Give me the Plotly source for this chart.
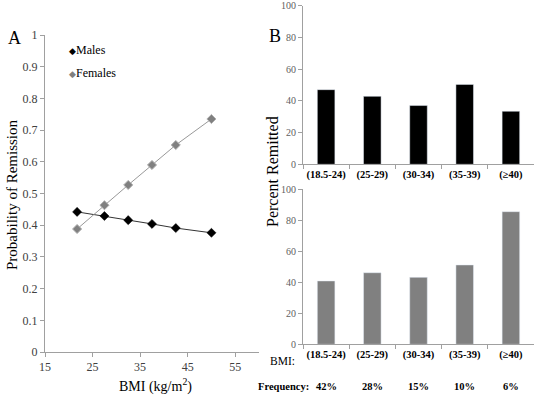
import plotly.graph_objects as go

# Panel A data
bmi_x = [21.75, 27.5, 32.5, 37.5, 42.5, 50.0]
males_prob = [0.442, 0.429, 0.416, 0.404, 0.391, 0.376]
females_prob = [0.388, 0.463, 0.527, 0.590, 0.653, 0.735]
a_xticks = [15, 25, 35, 45, 55]
a_yticks = [0, 0.1, 0.2, 0.3, 0.4, 0.5, 0.6, 0.7, 0.8, 0.9, 1]

# Panel B data
bmi_cats = ["(18.5-24)", "(25-29)", "(30-34)", "(35-39)", "(\u226540)"]
males_pct = [47.0, 42.8, 37.0, 50.3, 33.4]
females_pct = [40.8, 46.1, 43.1, 51.1, 85.4]
frequency = ["42%", "28%", "15%", "10%", "6%"]
b_yticks = [0, 20, 40, 60, 80, 100]

W, H = 535, 396
SERIF = "Liberation Serif, Times New Roman, serif"

def px(x):
    return x / W

def py(y):
    return 1 - y / H

fig = go.Figure()

# Panel A: lines
fig.add_trace(go.Scatter(x=bmi_x, y=males_prob, mode="lines", line=dict(color="#333333", width=1),
                         showlegend=False, xaxis="x", yaxis="y", hoverinfo="skip"))
fig.add_trace(go.Scatter(x=bmi_x, y=females_prob, mode="lines", line=dict(color="#999999", width=1),
                         showlegend=False, xaxis="x", yaxis="y", hoverinfo="skip"))
fig.add_trace(go.Scatter(x=bmi_x, y=males_prob, mode="markers", name="Males",
                         marker=dict(symbol="diamond", size=7, color="#000000", line=dict(color="#000000", width=0.5)),
                         xaxis="x", yaxis="y", showlegend=False))
fig.add_trace(go.Scatter(x=bmi_x, y=females_prob, mode="markers", name="Females",
                         marker=dict(symbol="diamond", size=7, color="#808080", line=dict(color="#b0b0b0", width=1)),
                         xaxis="x", yaxis="y", showlegend=False))

# Panel B bars
fig.add_trace(go.Bar(x=bmi_cats, y=males_pct, marker=dict(color="#000000"), showlegend=False,
                     xaxis="x2", yaxis="y2"))
fig.add_trace(go.Bar(x=bmi_cats, y=females_pct, marker=dict(color="#808080"), showlegend=False,
                     xaxis="x3", yaxis="y3"))

axis_common = dict(showgrid=False, zeroline=False, showline=True, linecolor="#a0a0a0", linewidth=1,
                   ticks="outside", tickcolor="#a0a0a0", ticklen=4, automargin=False,
                   ticklabeloverflow="allow")
cat_font = dict(family=SERIF, size=10.5, color="#000000", weight="bold")

fig.update_layout(
    width=W, height=H,
    margin=dict(l=0, r=0, t=0, b=0, autoexpand=False),
    paper_bgcolor="white", plot_bgcolor="white",
    font=dict(family=SERIF, color="#000000"),
    bargap=0.62,
    showlegend=False,
    xaxis=dict(domain=[px(45), px(259)], range=[15, 60], tickvals=a_xticks, anchor="y",
               tickfont=dict(family=SERIF, size=12, color="#404040"), **axis_common),
    yaxis=dict(domain=[py(352), py(35)], range=[0, 1], tickvals=a_yticks, anchor="x",
               tickfont=dict(family=SERIF, size=12, color="#404040"), **axis_common),
    xaxis2=dict(domain=[px(303), px(534)], range=[-0.5, 4.5], type="category", anchor="y2",
                tickson="boundaries", tickangle=0, tickfont=cat_font, **axis_common),
    yaxis2=dict(domain=[py(164.3), py(5.5)], range=[0, 100], tickvals=b_yticks, anchor="x2",
                tickfont=dict(family=SERIF, size=10, color="#606060"), **axis_common),
    xaxis3=dict(domain=[px(303), px(534)], range=[-0.5, 4.5], type="category", anchor="y3",
                tickson="boundaries", tickangle=0, tickfont=cat_font, **axis_common),
    yaxis3=dict(domain=[py(344.3), py(189)], range=[0, 100], tickvals=b_yticks, anchor="x3",
                tickfont=dict(family=SERIF, size=10, color="#606060"), **axis_common),
)

annotations = [
    dict(text="A", x=px(14), y=py(38), font=dict(size=18)),
    dict(text="B", x=px(275), y=py(36), font=dict(size=18)),
    dict(text="Probability of Remission", x=px(12), y=py(195), textangle=-90, font=dict(size=15)),
    dict(text="BMI (kg/m<sup>2</sup>)", x=px(155), y=py(385), font=dict(size=14)),
    dict(text="Percent Remitted", x=px(272), y=py(172), textangle=-90, font=dict(size=16)),
    dict(text="BMI:", x=px(297), y=py(361), xanchor="right", font=dict(size=11.5)),
    dict(text="<b>Frequency:</b>", x=px(256), y=py(386), xanchor="left", font=dict(size=10.5)),
    dict(text="<span style='color:#000000;font-size:9px'>\u25c6</span>Males", x=px(67), y=py(50),
         xanchor="left", font=dict(size=12)),
    dict(text="<span style='color:#808080;font-size:9px'>\u25c6</span>Females", x=px(67), y=py(73),
         xanchor="left", font=dict(size=12)),
]
for cat, fq in zip(bmi_cats, frequency):
    annotations.append(dict(text="<b>" + fq + "</b>", x=cat, y=py(386), xref="x3", yref="paper",
                            font=dict(size=10.5)))
for a in annotations:
    a.setdefault("xref", "paper")
    a.setdefault("yref", "paper")
    a.setdefault("showarrow", False)
    a.setdefault("xanchor", "center")
    a.setdefault("yanchor", "middle")
fig.update_layout(annotations=annotations)

fig.write_html("out.html", config={"displayModeBar": False},
               post_script="document.body.style.margin='0';document.body.style.overflow='hidden';")
